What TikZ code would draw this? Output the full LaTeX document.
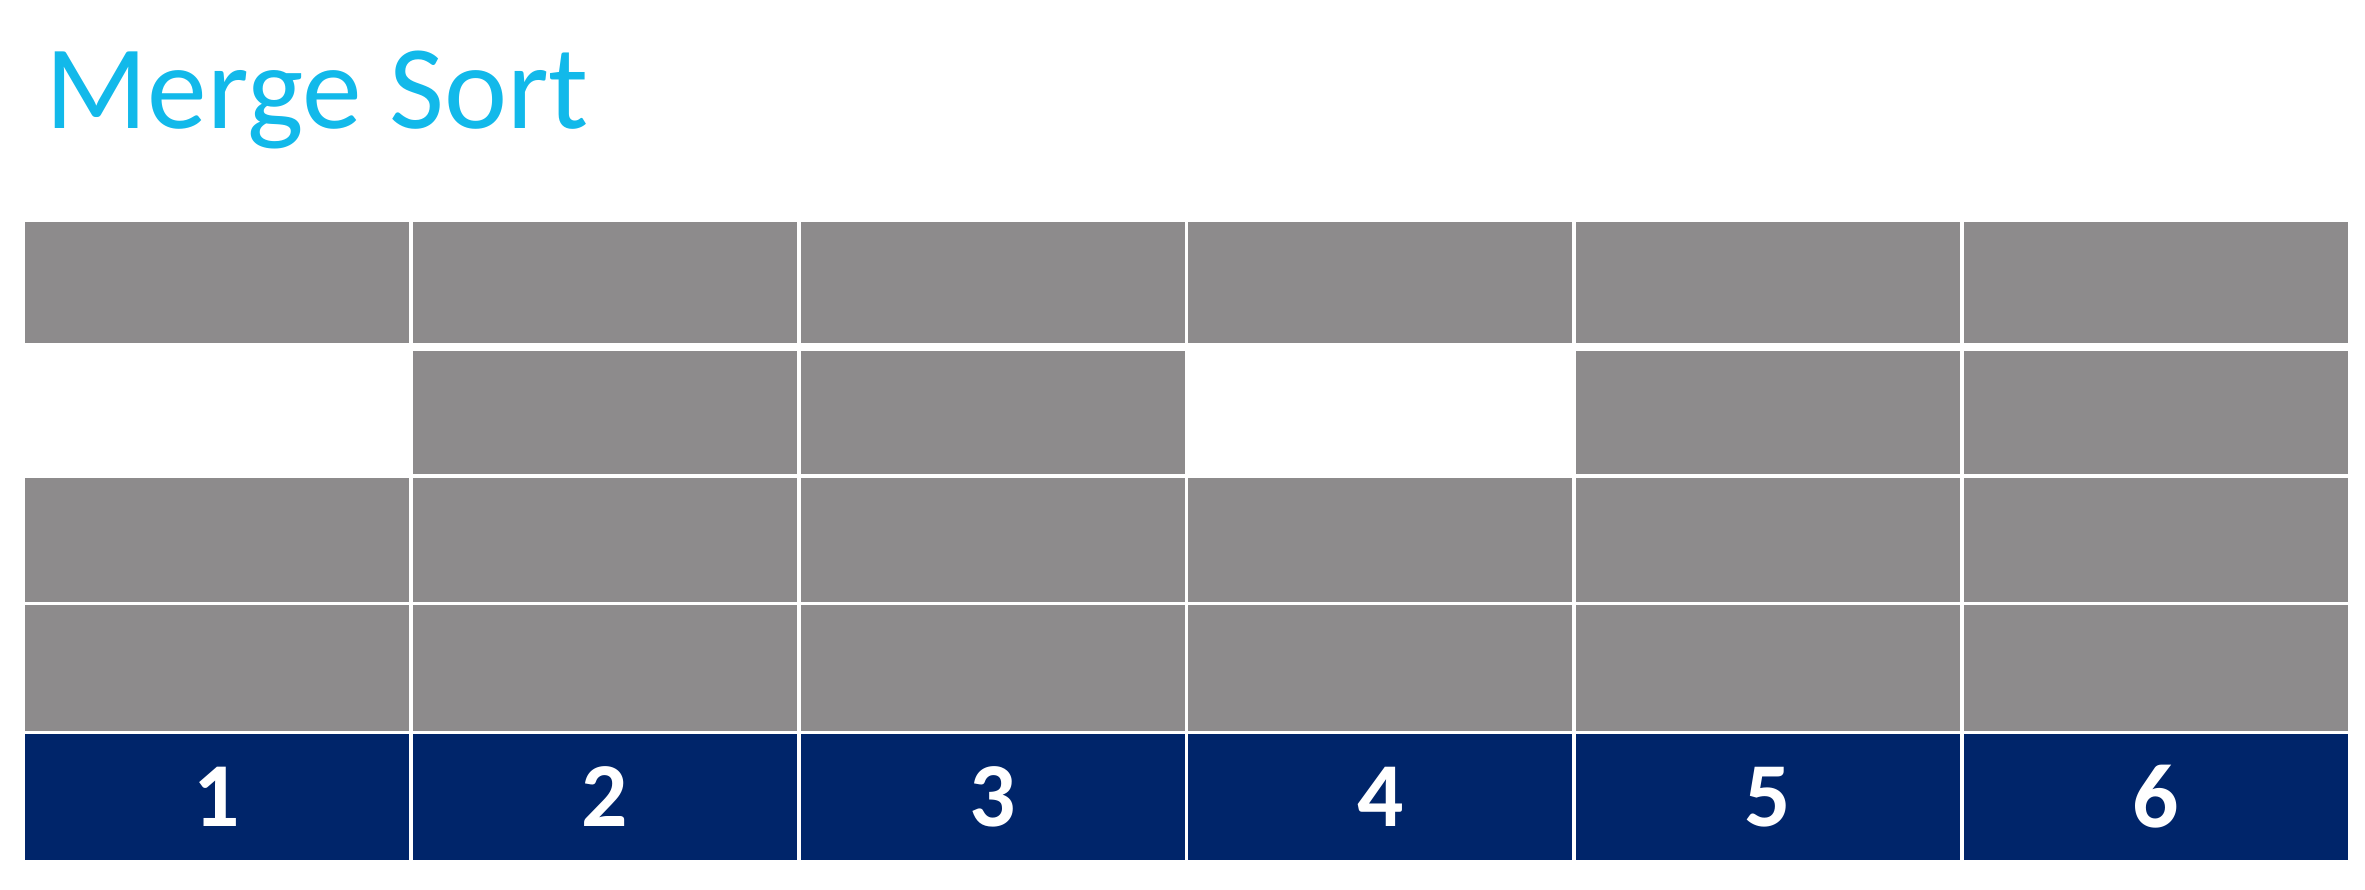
\documentclass[tikz,border=0pt]{standalone}
\usepackage{fontspec}
\setmainfont{Carlito}
\usetikzlibrary{positioning}
\definecolor{sortCyan}{HTML}{12B9EA}
\definecolor{cellGrey}{HTML}{8D8B8C}
\definecolor{keyNavy}{HTML}{00256A}
\tikzset{
  cellbox/.style={rectangle, fill=cellGrey, inner sep=0pt, minimum width=3.84cm, minimum height=#1},
  keybox/.style={rectangle, fill=keyNavy, inner sep=0pt, minimum width=3.84cm, minimum height=1.26cm, text=white, font=\fontsize{26}{30}\selectfont\bfseries},
  titletext/.style={text=sortCyan, font=\fontsize{34}{40}\selectfont, anchor=base west, inner sep=0pt},
}

\begin{document}
\begin{tikzpicture}[x=1cm,y=1cm]
  \useasboundingbox (0,0) rectangle (23.65,-8.89);
  \node[titletext] (title) at (0.45,-1.28) {Merge Sort};

  % grey levels above the keys
  \foreach \col in {1,...,6} {
    \pgfmathsetmacro{\cx}{0.23+3.878*(\col-0.5)}
    \node[cellbox=1.21cm] (lvlA-\col) at (\cx,-2.825) {};
    \node[cellbox=1.24cm] (lvlC-\col) at (\cx,-5.40) {};
    \node[cellbox=1.26cm] (lvlD-\col) at (\cx,-6.68) {};
    \node[keybox] (key-\col) at (\cx,-7.97) {\col};
  }
  \foreach \col in {2,3,5,6} {
    \pgfmathsetmacro{\cx}{0.23+3.878*(\col-0.5)}
    \node[cellbox=1.23cm] (lvlB-\col) at (\cx,-4.125) {};
  }
\end{tikzpicture}
\end{document}
